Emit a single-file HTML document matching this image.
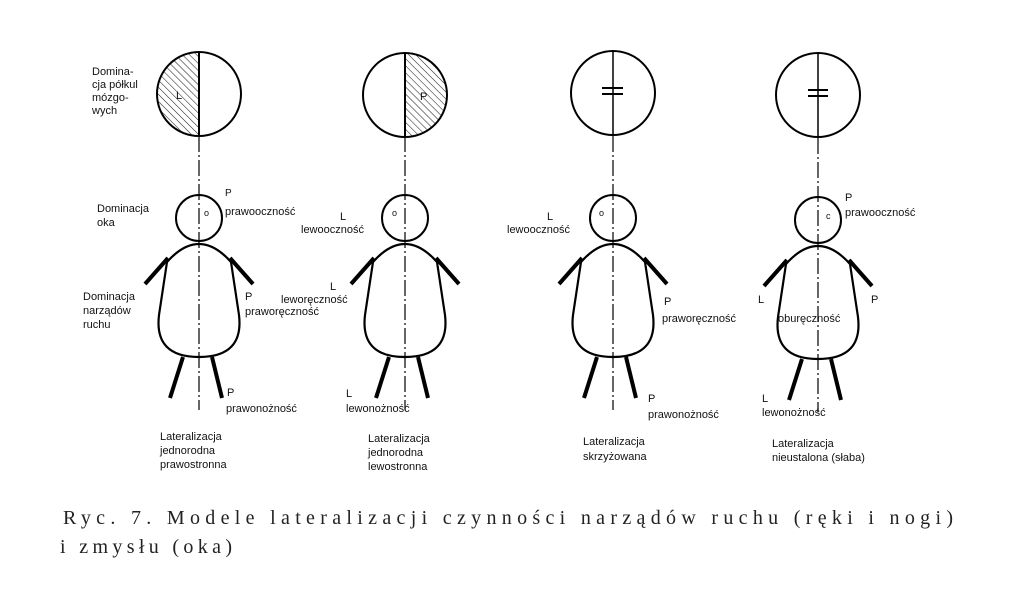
<!DOCTYPE html>
<html><head><meta charset="utf-8"><style>
html,body{margin:0;padding:0;background:#fff;}
svg{display:block}
.t{font-family:"Liberation Sans",sans-serif;font-size:11px;fill:#111}
.c{font-family:"Liberation Serif",serif;font-size:20px;fill:#222}
</style></head><body>
<svg width="1024" height="597" viewBox="0 0 1024 597" xmlns="http://www.w3.org/2000/svg">
<defs>
<pattern id="h" width="5" height="5" patternUnits="userSpaceOnUse" patternTransform="rotate(-45)">
<line x1="0" y1="0" x2="0" y2="5" stroke="#222" stroke-width="1.1"/>
</pattern>
<g id="fig" fill="none" stroke="#000">
<circle cx="0" cy="218" r="23" stroke-width="2"/>
<path d="M-32,262 Q0,226 32,262 L40,315 Q45,357 0,357 Q-45,357 -40,315 Z" stroke-width="2.2"/>
<line x1="-31" y1="258" x2="-54" y2="284" stroke-width="4"/>
<line x1="31" y1="258" x2="54" y2="284" stroke-width="4"/>
<line x1="-16" y1="357" x2="-29" y2="398" stroke-width="4"/>
<line x1="13" y1="357" x2="23" y2="398" stroke-width="4"/>
<line x1="0" y1="136" x2="0" y2="410" stroke-width="1.2" stroke-dasharray="16,3,2,3"/>
</g>
</defs>

<path d="M199,52 A42,42 0 0 0 199,136 Z" fill="url(#h)"/>
<circle cx="199" cy="94" r="42" fill="none" stroke="#000" stroke-width="2"/>
<line x1="199" y1="52" x2="199" y2="136" stroke="#000" stroke-width="2"/>
<text class="t" x="176" y="99">L</text>
<use href="#fig" x="199"/>
<text class="t" x="204" y="216" style="font-size:9px">o</text>

<path d="M405,53 A42,42 0 0 1 405,137 Z" fill="url(#h)"/>
<circle cx="405" cy="95" r="42" fill="none" stroke="#000" stroke-width="2"/>
<line x1="405" y1="53" x2="405" y2="137" stroke="#000" stroke-width="2"/>
<text class="t" x="420" y="100">P</text>
<use href="#fig" x="405"/>
<text class="t" x="392" y="216" style="font-size:9px">o</text>

<circle cx="613" cy="93" r="42" fill="none" stroke="#000" stroke-width="2"/>
<line x1="613" y1="51" x2="613" y2="135" stroke="#000" stroke-width="1.5"/>
<line x1="602" y1="88" x2="623" y2="88" stroke="#000" stroke-width="2"/>
<line x1="602" y1="94" x2="623" y2="94" stroke="#000" stroke-width="2"/>
<use href="#fig" x="613"/>
<text class="t" x="599" y="216" style="font-size:9px">o</text>

<circle cx="818" cy="95" r="42" fill="none" stroke="#000" stroke-width="2"/>
<line x1="818" y1="53" x2="818" y2="137" stroke="#000" stroke-width="1.5"/>
<line x1="808" y1="90" x2="828" y2="90" stroke="#000" stroke-width="2"/>
<line x1="808" y1="96" x2="828" y2="96" stroke="#000" stroke-width="2"/>
<use href="#fig" x="818" y="2"/>
<text class="t" x="826" y="219" style="font-size:9px">c</text>

<text class="t" x="92" y="75">Domina-</text>
<text class="t" x="92" y="88">cja półkul</text>
<text class="t" x="92" y="101">mózgo-</text>
<text class="t" x="92" y="114">wych</text>
<text class="t" x="97" y="212">Dominacja</text>
<text class="t" x="97" y="226">oka</text>
<text class="t" x="225" y="196" style="font-size:10px">P</text>
<text class="t" x="225" y="215">prawooczność</text>
<text class="t" x="83" y="300">Dominacja</text>
<text class="t" x="83" y="314">narządów</text>
<text class="t" x="83" y="328">ruchu</text>
<text class="t" x="245" y="300">P</text>
<text class="t" x="245" y="315">praworęczność</text>
<text class="t" x="227" y="396">P</text>
<text class="t" x="226" y="412">prawonożność</text>
<text class="t" x="160" y="440">Lateralizacja</text>
<text class="t" x="160" y="454">jednorodna</text>
<text class="t" x="160" y="468">prawostronna</text>

<text class="t" x="340" y="220">L</text>
<text class="t" x="301" y="233">lewooczność</text>
<text class="t" x="330" y="290">L</text>
<text class="t" x="281" y="303">leworęczność</text>
<text class="t" x="346" y="397">L</text>
<text class="t" x="346" y="412">lewonożność</text>
<text class="t" x="368" y="442">Lateralizacja</text>
<text class="t" x="368" y="456">jednorodna</text>
<text class="t" x="368" y="470">lewostronna</text>

<text class="t" x="547" y="220">L</text>
<text class="t" x="507" y="233">lewooczność</text>
<text class="t" x="664" y="305">P</text>
<text class="t" x="662" y="322">praworęczność</text>
<text class="t" x="648" y="402">P</text>
<text class="t" x="648" y="418">prawonożność</text>
<text class="t" x="583" y="445">Lateralizacja</text>
<text class="t" x="583" y="460">skrzyżowana</text>

<text class="t" x="845" y="201">P</text>
<text class="t" x="845" y="216">prawooczność</text>
<text class="t" x="758" y="303">L</text>
<text class="t" x="871" y="303">P</text>
<text class="t" x="778" y="322">oburęczność</text>
<text class="t" x="762" y="402">L</text>
<text class="t" x="762" y="416">lewonożność</text>
<text class="t" x="772" y="447">Lateralizacja</text>
<text class="t" x="772" y="461">nieustalona (słaba)</text>

<text class="c" x="63" y="524" textLength="890" lengthAdjust="spacing">Ryc. 7. Modele lateralizacji czynności narządów   ruchu (ręki i nogi)</text>
<text class="c" x="60" y="553" textLength="172" lengthAdjust="spacing">i zmysłu (oka)</text>
</svg>
</body></html>
